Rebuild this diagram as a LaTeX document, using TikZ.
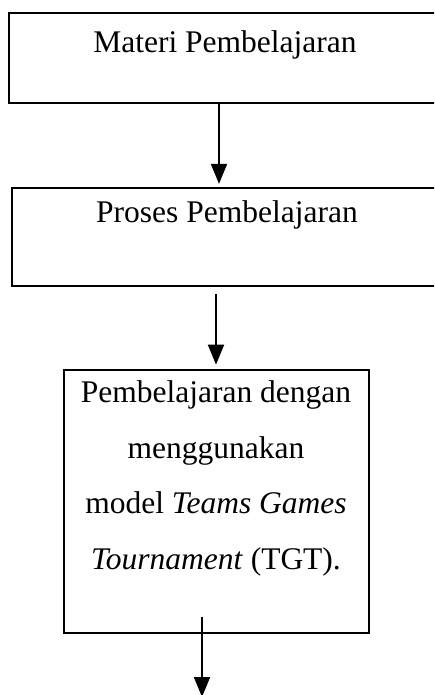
\documentclass[tikz,border=0pt]{standalone}
\usepackage{fontspec}
\setmainfont{Liberation Serif}
\usetikzlibrary{arrows.meta}
\tikzset{
  box/.style={draw=black, rectangle, inner sep=0pt, fill=none},
  txt/.style={inner sep=0pt, font=\fontsize{31.5}{55.5}\selectfont, align=center},
  arr/.style={draw=black, line width=2pt, -{Triangle[width=16pt,length=20pt]}}
}
\begin{document}
\begin{tikzpicture}[x=1pt,y=-1pt]
\path[use as bounding box] (0,0) rectangle (434,695);
\clip (0,0) rectangle (434,695);
\fill[white] (0,0) rectangle (434,695);
% boxes
\node[box, line width=1.8pt, minimum width=432pt, minimum height=90pt] (b1) at (225,58) {};
\node[box, line width=2.3pt, minimum width=430pt, minimum height=98pt] (b2) at (227,237) {};
\node[box, line width=2.7pt, minimum width=305pt, minimum height=263pt] (b3) at (216.5,501.5) {};
% texts
\node[txt, anchor=base] (t1) at (225,53) {Materi Pembelajaran};
\node[txt, anchor=base] (t2) at (227,222) {Proses Pembelajaran};
\node[txt, anchor=base] (t3) at (216,569) {Pembelajaran dengan\\menggunakan\\model \textit{Teams Games}\\\textit{Tournament} (TGT).};
% connector coordinates
\coordinate (a1) at (219,0);
\coordinate (a2s) at (216,294);
\coordinate (a3s) at (202,617);
\coordinate (a3e) at (202,697);
% arrows
\draw[arr] (b1.south -| a1) -- ([yshift=3pt]b2.north -| a1);
\draw[arr] (a2s) -- ([yshift=4pt]b3.north -| a2s);
\draw[arr] (a3s) -- (a3e);
\end{tikzpicture}
\end{document}
